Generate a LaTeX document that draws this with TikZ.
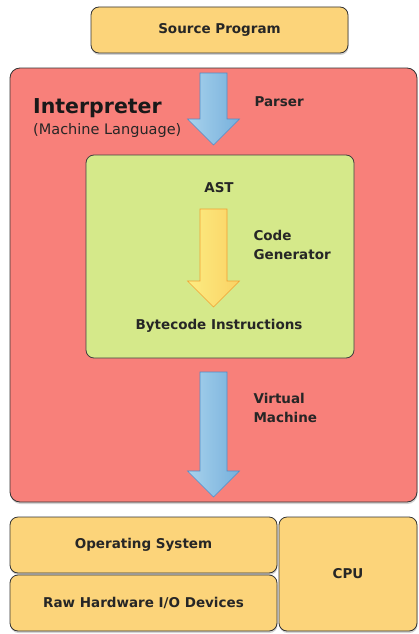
\documentclass[tikz,border=0pt]{standalone}
\usepackage{fontspec}
\setmainfont{DejaVu Sans}
\usetikzlibrary{calc,shadows}

\definecolor{boxyellow}{RGB}{252,212,122}
\definecolor{interred}{RGB}{248,128,122}
\definecolor{astgreen}{RGB}{213,233,138}
\definecolor{arrowblueL}{RGB}{168,210,236}
\definecolor{arrowblueR}{RGB}{118,176,220}
\definecolor{arrowblueD}{RGB}{80,140,200}
\definecolor{arrowyelL}{RGB}{252,236,130}
\definecolor{arrowyelR}{RGB}{250,210,100}
\definecolor{arrowyelD}{RGB}{240,160,50}

\tikzset{
  layerbox/.style={draw=black!80, line width=0.8pt, rounded corners=8pt, fill=boxyellow,
    drop shadow={shadow xshift=0.5pt, shadow yshift=-2pt, opacity=0.35}},
  label/.style={font=\bfseries\fontsize{13.5}{19}\selectfont, text=black!85, align=left},
  bluearrow/.style={draw=arrowblueD, line width=0.6pt, left color=arrowblueL, right color=arrowblueR},
  yelarrow/.style={draw=arrowyelD, line width=0.6pt, left color=arrowyelL, right color=arrowyelR}
}

% block arrow: style, top coordinate, tip coordinate
\newcommand{\blockarrow}[3]{
  \draw[#1] ($(#2)+(-13.5,0)$) -- ($(#2)+(13.5,0)$) -- ($(#3)+(13.5,-26)$)
    -- ($(#3)+(26,-26)$) -- (#3) -- ($(#3)+(-26,-26)$) -- ($(#3)+(-13.5,-26)$) -- cycle;
}

\begin{document}
\begin{tikzpicture}[x=1pt, y=-1pt]
  %%%%% START %%%%%
  \useasboundingbox (0,0) rectangle (419,634);

  \node[layerbox, minimum width=257pt, minimum height=46pt] (source) at (219.5,30) {};
  \node[label] at (source) {Source Program};

  \node[draw=black!80, line width=0.8pt, rounded corners=10pt, fill=interred,
    drop shadow={shadow xshift=0.5pt, shadow yshift=-2pt, opacity=0.35},
    minimum width=407pt, minimum height=434pt] (interp) at (213.5,285) {};
  \node[font=\bfseries\fontsize{20.5}{22}\selectfont, text=black!90, anchor=base west, inner sep=0pt] (interptitle) at (33,113) {Interpreter};
  \node[font=\fontsize{14.5}{16}\selectfont, text=black!85, anchor=base west, inner sep=0pt] (interpsub) at (33,134) {(Machine Language)};

  \node[draw=black!75, line width=0.8pt, rounded corners=8pt, fill=astgreen,
    minimum width=268pt, minimum height=203pt] (ast) at (220,256.5) {};
  \node[label] (asttext) at (219,188) {AST};
  \node[label] (bytecode) at (219,326) {Bytecode Instructions};

  % arrows
  \coordinate (parser top) at (213.5,73);
  \coordinate (parser tip) at (213.5,145);
  \coordinate (codegen top) at (213.5,209);
  \coordinate (codegen tip) at (213.5,307);
  \coordinate (vm top) at (213.5,372);
  \coordinate (vm tip) at (213.5,497);
  \blockarrow{bluearrow}{parser top}{parser tip}
  \blockarrow{yelarrow}{codegen top}{codegen tip}
  \blockarrow{bluearrow}{vm top}{vm tip}

  \node[label, anchor=west] (parser) at (251,102) {Parser};
  \node[label, anchor=west] (codegen) at (250,245) {Code\\Generator};
  \node[label, anchor=west] (vm) at (250,408) {Virtual\\Machine};

  \node[layerbox, minimum width=267pt, minimum height=56pt] (os) at (143.5,545) {};
  \node[label] at (os) {Operating System};
  \node[layerbox, minimum width=267pt, minimum height=56pt] (raw) at (143.5,603) {};
  \node[label] at (raw) {Raw Hardware I/O Devices};
  \node[layerbox, minimum width=138pt, minimum height=114pt] (cpu) at (348,574) {};
  \node[label] at (cpu) {CPU};
  %%%%% END %%%%%
\end{tikzpicture}
\end{document}
